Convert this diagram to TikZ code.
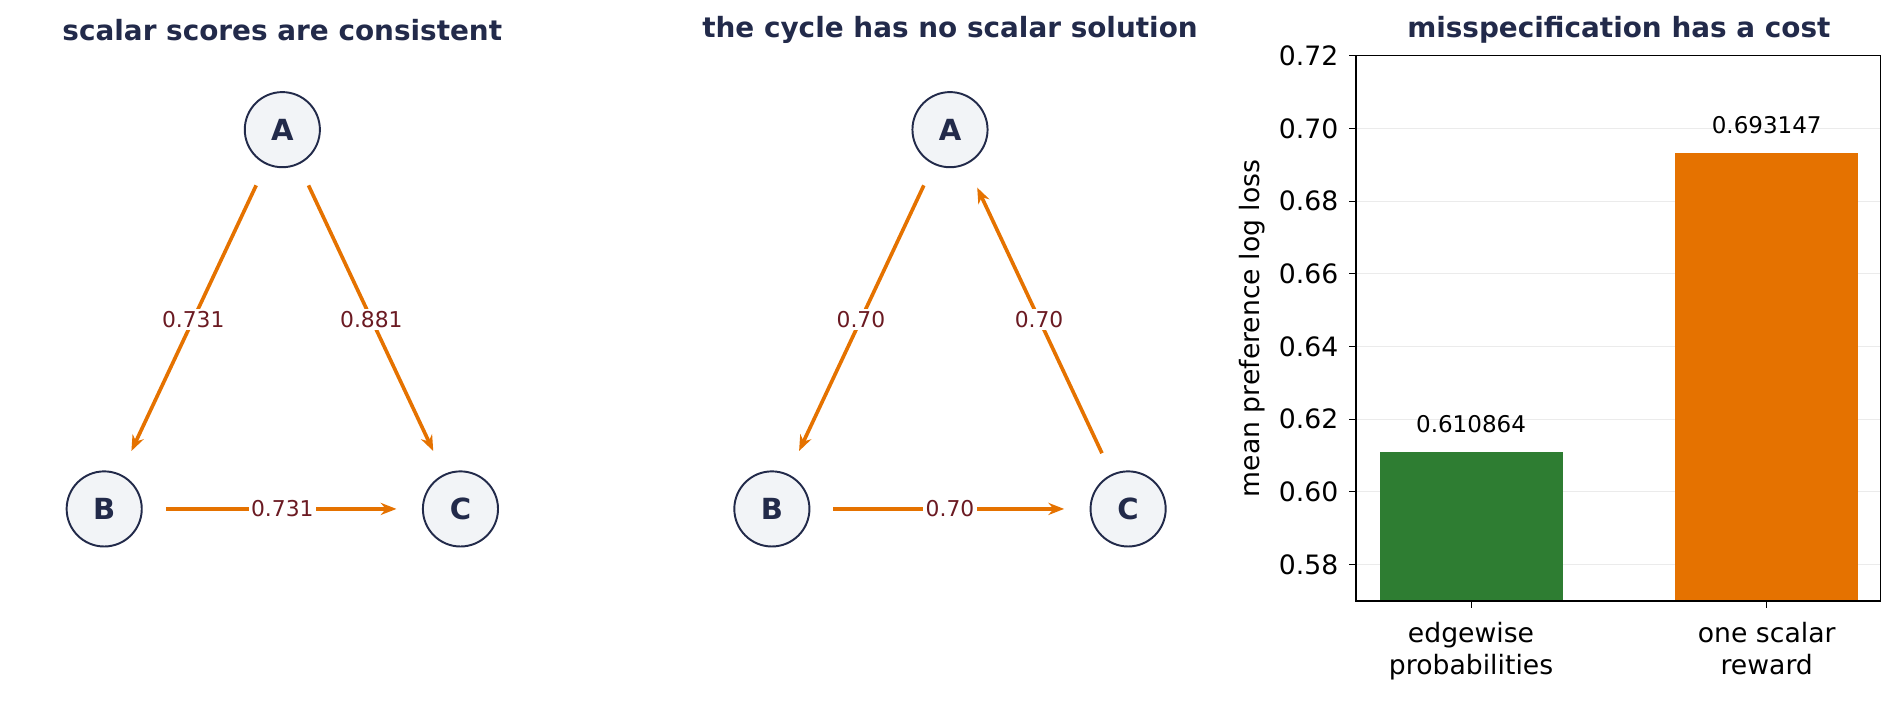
\documentclass[tikz,border=0pt]{standalone}
\usepackage{fontspec}
\setmainfont{DejaVu Sans}
\usetikzlibrary{arrows.meta}
\definecolor{navy}{HTML}{222A4A}
\definecolor{orng}{HTML}{E57200}
\definecolor{grn}{HTML}{2E7D32}
\definecolor{lbl}{HTML}{6B1A22}
\definecolor{nfill}{HTML}{F2F4F7}
\begin{document}
\begin{tikzpicture}[x=1pt,y=-1pt,
  vert/.style={circle,draw=navy,line width=1.6pt,fill=nfill,minimum size=62pt,inner sep=0pt,text=navy,font=\fontsize{24}{28}\selectfont\bfseries},
  edge/.style={draw=orng,line width=3pt,-{Stealth[length=13pt,width=10pt]},shorten <=19pt,shorten >=21pt},
  elab/.style={fill=white,inner sep=2pt,text=lbl,font=\fontsize{18}{21}\selectfont},
  ttl/.style={text=navy,font=\fontsize{23}{27}\selectfont\bfseries},
  tick/.style={font=\fontsize{22}{26}\selectfont},
  grid/.style={draw=black!8,line width=0.8pt}]
\useasboundingbox (0,0) rectangle (1568,583.5);
% panel 1
\node[ttl] (t1) at (233,25) {scalar scores are consistent};
\node[vert] (A1) at (233,107) {A};
\node[vert] (B1) at (86,420) {B};
\node[vert] (C1) at (380,420) {C};
\draw[edge] (A1) -- node[elab] {0.731} (B1);
\draw[edge] (A1) -- node[elab] {0.881} (C1);
\draw[edge] (B1) -- node[elab] {0.731} (C1);
% panel 2
\node[ttl] (t2) at (784,25) {the cycle has no scalar solution};
\node[vert] (A2) at (784,107) {A};
\node[vert] (B2) at (637,420) {B};
\node[vert] (C2) at (931,420) {C};
\draw[edge] (A2) -- node[elab] {0.70} (B2);
\draw[edge] (C2) -- node[elab] {0.70} (A2);
\draw[edge] (B2) -- node[elab] {0.70} (C2);
% panel 3
\node[ttl] (t3) at (1336,25) {misspecification has a cost};
\foreach \v/\y in {0.58/466,0.60/406,0.62/346,0.64/286,0.66/226,0.68/166,0.70/106,0.72/46}{
  \draw[grid] (1119,\y) -- (1552,\y);
  \draw[line width=0.8pt] (1119,\y) -- (1113,\y);
  \node[tick,anchor=east] at (1108,\y) {\v};
}
\fill[grn] (1139,373.4) rectangle (1290,496);
\fill[orng] (1382,126.6) rectangle (1533,496);
\node[font=\fontsize{19}{22}\selectfont] (v1) at (1214,350) {0.610864};
\node[font=\fontsize{19}{22}\selectfont] (v2) at (1458,103) {0.693147};
\draw[line width=1pt] (1119,46) rectangle (1552,496);
\draw[line width=0.8pt] (1214,496) -- (1214,502);
\draw[line width=0.8pt] (1458,496) -- (1458,502);
\node[tick,align=center,anchor=north] (x1) at (1214,510) {edgewise\\probabilities};
\node[tick,align=center,anchor=north] (x2) at (1458,510) {one scalar\\reward};
\node[tick,rotate=90] (yl) at (1033,271) {mean preference log loss};
\end{tikzpicture}
\end{document}
